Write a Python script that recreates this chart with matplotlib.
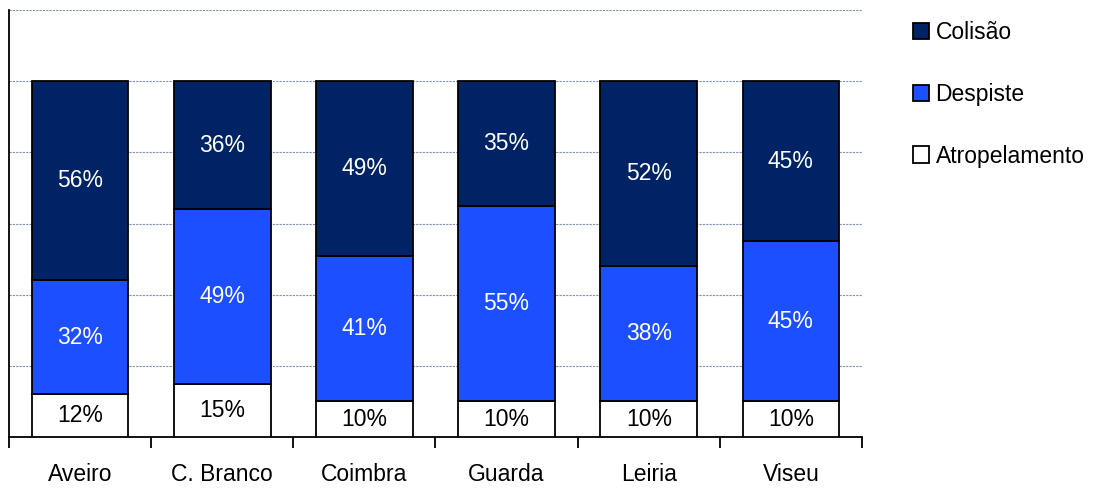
import matplotlib.pyplot as plt
import numpy as np
from matplotlib.patches import Patch

plt.rcParams['font.family'] = ['Liberation Sans', 'DejaVu Sans']

distritos = ["Aveiro", "C. Branco", "Coimbra", "Guarda", "Leiria", "Viseu"]
atropelamento = [12, 15, 10, 10, 10, 10]
despiste = [32, 49, 41, 55, 38, 45]
colisao = [56, 36, 49, 35, 52, 45]

series = [
    ("Atropelamento", atropelamento, "#FFFFFF", "black"),
    ("Despiste", despiste, "#1C4FFF", "white"),
    ("Colisão", colisao, "#002366", "white"),
]

fig = plt.figure(figsize=(11.05, 4.88), dpi=100)
ax = fig.add_axes([9/1105, 1 - 437/488, (862-9)/1105, (437-10)/488])

x = np.arange(len(distritos))
bottom = np.zeros(len(distritos))
handles = []
for name, vals, col, tcol in series:
    vals = np.array(vals, dtype=float)
    ax.bar(x, vals, width=0.68, bottom=bottom, color=col,
           edgecolor="black", linewidth=1.3, zorder=3)
    for xi, b, v in zip(x, bottom, vals):
        ax.text(xi, b + v / 2, "{}%".format(int(v)), ha="center", va="center",
                color=tcol, fontsize=16.5, zorder=4)
    bottom += vals
    handles.append(Patch(facecolor=col, edgecolor="black", linewidth=1.3, label=name))

ax.set_xlim(-0.5, len(distritos) - 0.5)
ax.set_ylim(0, 120)
ax.set_yticks(np.arange(0, 121, 20))
ax.set_yticklabels([])
ax.tick_params(axis="y", length=0)
ax.yaxis.grid(True, color="#8090B0", linestyle=(0, (2, 1)), linewidth=0.8, zorder=0)

ax.set_xticks(np.arange(-0.5, len(distritos), 1.0))
ax.set_xticklabels([])
ax.set_xticks(x, minor=True)
ax.set_xticklabels(distritos, minor=True, fontsize=16.5)
ax.tick_params(axis="x", which="major", length=8, width=1.3, direction="out", color="black")
ax.tick_params(axis="x", which="minor", length=0, pad=19)

for s in ["top", "right"]:
    ax.spines[s].set_visible(False)
for s in ["left", "bottom"]:
    ax.spines[s].set_linewidth(1.3)

leg = fig.legend(handles=handles[::-1], loc="upper left", bbox_to_anchor=(892/1105, 1.0),
                 frameon=False, fontsize=16.5, handlelength=0.7, handleheight=0.7,
                 handletextpad=0.3, labelspacing=1.7)

fig.savefig("out.png", dpi=100)
